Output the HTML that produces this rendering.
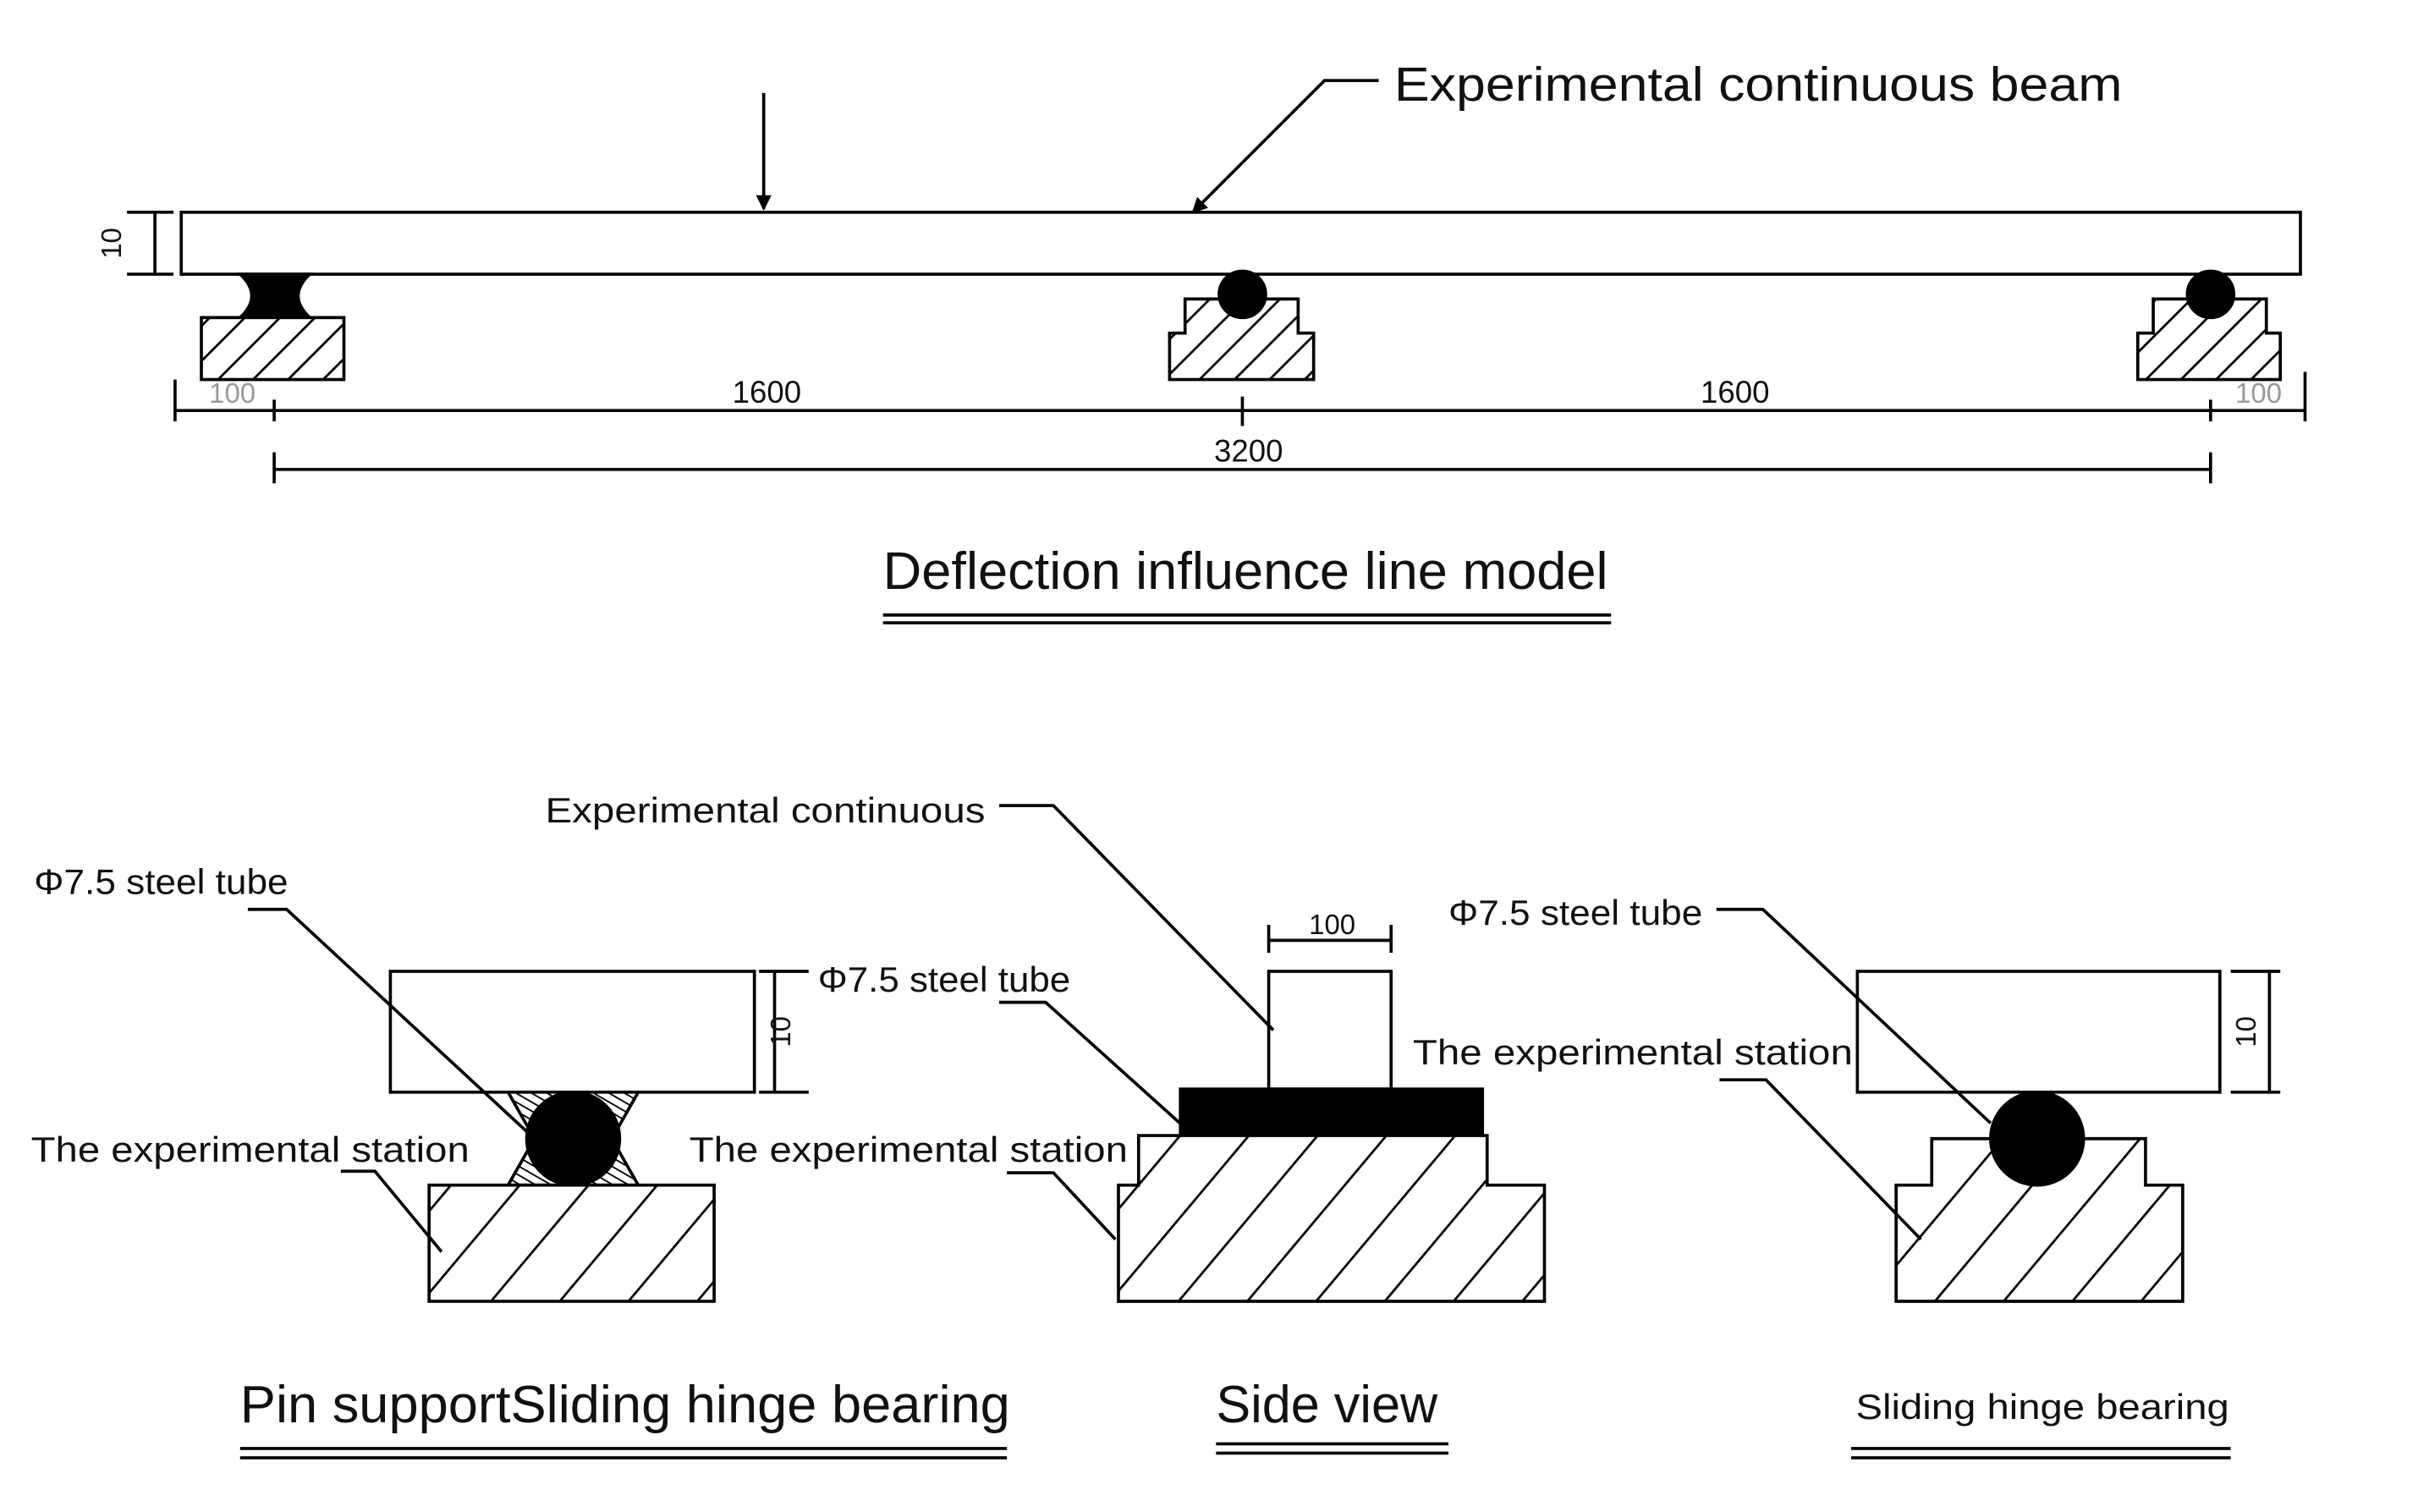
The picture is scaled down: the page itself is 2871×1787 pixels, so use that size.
<!DOCTYPE html>
<html><head><meta charset="utf-8"><style>
html,body{margin:0;padding:0;background:#fff}
svg{display:block}
text{font-family:"Liberation Sans",sans-serif;fill:#111}
</style></head><body>
<svg width="2871" height="1787" viewBox="0 0 1568 976" preserveAspectRatio="none" xmlns="http://www.w3.org/2000/svg">
<defs>
<pattern id="h1" width="16" height="16" patternUnits="userSpaceOnUse" patternTransform="rotate(45)">
<rect width="16" height="16" fill="#fff"/><line x1="0" y1="0" x2="0" y2="16" stroke="#000" stroke-width="3"/></pattern>
<pattern id="h2" width="34" height="34" patternUnits="userSpaceOnUse" patternTransform="rotate(40)">
<rect width="34" height="34" fill="#fff"/><line x1="0" y1="0" x2="0" y2="34" stroke="#000" stroke-width="3"/></pattern>
<pattern id="h3" width="5" height="5" patternUnits="userSpaceOnUse" patternTransform="rotate(-60)">
<rect width="5" height="5" fill="#fff"/><line x1="0" y1="0" x2="0" y2="5" stroke="#000" stroke-width="2"/></pattern>
<marker id="ar" markerWidth="10" markerHeight="10" refX="9" refY="5" orient="auto" markerUnits="userSpaceOnUse"><path d="M0,0 L10,5 L0,10 z" fill="#000"/></marker>
</defs>
<g stroke="#000" fill="none" stroke-width="2">
<rect x="117" y="137" width="1368" height="40" fill="#fff"/>
<line x1="100" y1="137" x2="100" y2="177"/><line x1="82" y1="137" x2="112" y2="137"/><line x1="82" y1="177" x2="112" y2="177"/>
<line x1="493" y1="60" x2="493" y2="135" marker-end="url(#ar)"/>
<polyline points="890,52 855,52 770,137" marker-end="url(#ar)"/>
<path d="M155,177 L200,177 Q185,191 200,205 L155,205 Q170,191 155,177 Z" fill="#000"/>
<rect x="130" y="205" width="92" height="40" fill="url(#h1)"/>
<path d="M755,245 L755,215 L765,215 L765,193 L838,193 L838,215 L848,215 L848,245 Z" fill="url(#h1)"/>
<circle cx="802" cy="190" r="15" fill="#000"/>
<path d="M1380,245 L1380,215 L1390,215 L1390,193 L1463,193 L1463,215 L1472,215 L1472,245 Z" fill="url(#h1)"/>
<circle cx="1427" cy="190" r="15" fill="#000"/>
<line x1="113" y1="265" x2="1488" y2="265"/>
<line x1="113" y1="245" x2="113" y2="272"/><line x1="1488" y1="240" x2="1488" y2="272"/>
<line x1="177" y1="258" x2="177" y2="272"/><line x1="802" y1="256" x2="802" y2="275"/><line x1="1427" y1="258" x2="1427" y2="272"/>
<line x1="177" y1="303" x2="1427" y2="303"/>
<line x1="177" y1="292" x2="177" y2="312"/><line x1="1427" y1="292" x2="1427" y2="312"/>
<line x1="570" y1="397" x2="1040" y2="397"/><line x1="570" y1="402" x2="1040" y2="402"/>
<rect x="252" y="627" width="235" height="78"/>
<line x1="500" y1="627" x2="500" y2="705"/><line x1="490" y1="627" x2="522" y2="627"/><line x1="490" y1="705" x2="522" y2="705"/>
<path d="M328,705 L412,705 L395,735 L412,765 L328,765 L345,735 Z" fill="url(#h3)"/>
<circle cx="370" cy="735" r="30" fill="#000"/>
<rect x="277" y="765" width="184" height="75" fill="url(#h2)"/>
<polyline points="160,587 185,587 345,735"/>
<polyline points="220,756 242,756 285,808"/>
<rect x="819" y="627" width="79" height="76" fill="#fff"/>
<line x1="819" y1="607" x2="898" y2="607"/><line x1="819" y1="597" x2="819" y2="615"/><line x1="898" y1="597" x2="898" y2="615"/>
<rect x="762" y="703" width="195" height="30" fill="#000"/>
<path d="M722,840 L722,765 L735,765 L735,733 L960,733 L960,765 L997,765 L997,840 Z" fill="url(#h2)"/>
<polyline points="645,520 680,520 822,665"/>
<polyline points="645,647 675,647 765,728"/>
<polyline points="650,757 680,757 720,800"/>
<rect x="1199" y="627" width="234" height="78"/>
<line x1="1465" y1="627" x2="1465" y2="705"/><line x1="1440" y1="627" x2="1472" y2="627"/><line x1="1440" y1="705" x2="1472" y2="705"/>
<path d="M1224,840 L1224,765 L1247,765 L1247,735 L1385,735 L1385,765 L1409,765 L1409,840 Z" fill="url(#h2)"/>
<circle cx="1315" cy="735" r="30" fill="#000"/>
<polyline points="1108,587 1138,587 1285,725"/>
<polyline points="1110,697 1140,697 1240,800"/>
<line x1="155" y1="935" x2="650" y2="935"/><line x1="155" y1="941" x2="650" y2="941"/>
<line x1="785" y1="932" x2="935" y2="932"/><line x1="785" y1="938" x2="935" y2="938"/>
<line x1="1195" y1="935" x2="1440" y2="935"/><line x1="1195" y1="941" x2="1440" y2="941"/>
</g>
<text x="900" y="65" font-size="31" textLength="470" lengthAdjust="spacingAndGlyphs">Experimental continuous beam</text>
<text transform="translate(78,157) rotate(-90)" font-size="18" text-anchor="middle">10</text>
<text x="150" y="260" font-size="18" text-anchor="middle" style="fill:#999">100</text>
<text x="495" y="260" font-size="20" text-anchor="middle">1600</text>
<text x="1120" y="260" font-size="20" text-anchor="middle">1600</text>
<text x="1458" y="260" font-size="18" text-anchor="middle" style="fill:#999">100</text>
<text x="806" y="298" font-size="20" text-anchor="middle">3200</text>
<text x="570" y="380" font-size="34" textLength="468" lengthAdjust="spacingAndGlyphs">Deflection influence line model</text>
<text x="22" y="577" font-size="23" textLength="164" lengthAdjust="spacingAndGlyphs">Φ7.5 steel tube</text>
<text x="20" y="750" font-size="23" textLength="283" lengthAdjust="spacingAndGlyphs">The experimental station</text>
<text transform="translate(510,666) rotate(-90)" font-size="18" text-anchor="middle">10</text>
<text x="352" y="531" font-size="23" textLength="284" lengthAdjust="spacingAndGlyphs">Experimental continuous</text>
<text x="528" y="640" font-size="23" textLength="163" lengthAdjust="spacingAndGlyphs">Φ7.5 steel tube</text>
<text x="445" y="750" font-size="23" textLength="283" lengthAdjust="spacingAndGlyphs">The experimental station</text>
<text x="860" y="603" font-size="18" text-anchor="middle">100</text>
<text x="935" y="597" font-size="23" textLength="164" lengthAdjust="spacingAndGlyphs">Φ7.5 steel tube</text>
<text x="912" y="687" font-size="23" textLength="284" lengthAdjust="spacingAndGlyphs">The experimental station</text>
<text transform="translate(1456,666) rotate(-90)" font-size="18" text-anchor="middle">10</text>
<text x="155" y="918" font-size="34" textLength="497" lengthAdjust="spacingAndGlyphs">Pin supportSliding hinge bearing</text>
<text x="785" y="918" font-size="34" textLength="143" lengthAdjust="spacingAndGlyphs">Side view</text>
<text x="1198" y="916" font-size="23" textLength="241" lengthAdjust="spacingAndGlyphs">Sliding hinge bearing</text>
</svg>
</body></html>
